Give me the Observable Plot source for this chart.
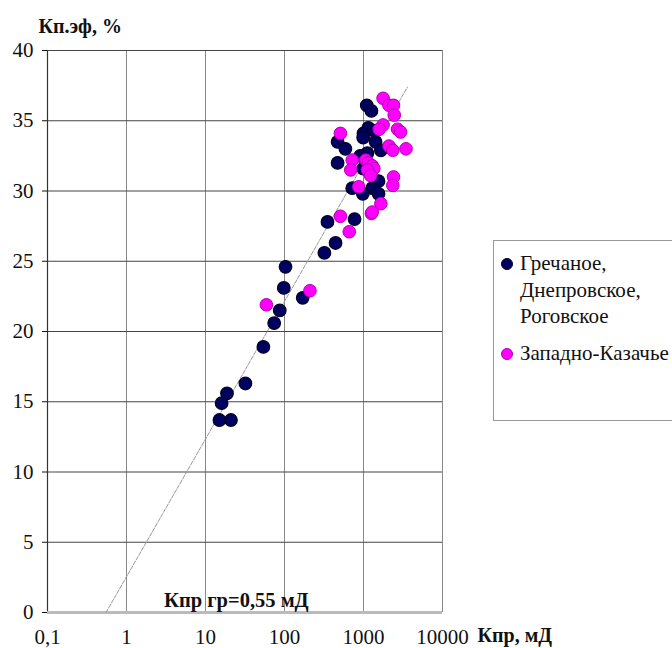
<!DOCTYPE html>
<html><head><meta charset="utf-8">
<script src="https://cdn.jsdelivr.net/npm/d3@7"></script>
<script src="https://cdn.jsdelivr.net/npm/@observablehq/plot@0.6"></script>
<style>
body{margin:0;background:#fff;}
#wrap{position:relative;width:672px;height:648px;font-family:"Liberation Serif","Times New Roman",serif;overflow:hidden;}
#legend{position:absolute;left:493px;top:240px;width:200px;height:181px;border:1.5px solid #999;box-sizing:border-box;background:#fff;font-size:21px;color:#111;}
.li{position:absolute;left:26px;line-height:26.5px;}
.mk{position:absolute;width:10px;height:10px;border-radius:50%;left:7px;}
</style></head>
<body><div id="wrap"><div id="legend"></div></div>
<script>
// Гречаное, Днепровское, Роговское
const navyK = [350,770,443,320,103,98,170,87,74,54,32,18.7,16,15,21,
  1100,1260,1150,1000,1350,1420,990,470,590,1120,910,470,1660,990,1550,1290,720,980,1550];
const navyP = [27.8,28.0,26.3,25.6,24.6,23.1,22.4,21.5,20.6,18.9,16.3,15.6,14.9,13.7,13.7,
  36.1,35.7,34.5,34.1,34.3,33.5,33.8,33.5,33.0,32.7,32.5,32.0,32.9,31.6,30.7,30.2,30.2,29.8,29.8];
// Западно-Казачье
const magK = [510,660,1260,210,59,
  1770,2100,2400,2450,1770,1580,2700,2950,510,2100,2350,3450,720,1070,1150,1290,1350,1120,690,1230,2400,2350,870,1660,1290];
const magP = [28.2,27.1,28.4,22.9,21.9,
  36.6,36.1,36.1,35.4,34.7,34.4,34.4,34.2,34.1,33.2,32.9,33.0,32.2,32.2,32.0,31.8,31.6,31.5,31.5,31.1,31.0,30.4,30.3,29.1,28.5];
const xTicks = [0.1,1,10,100,1000,10000];
const xTickLabels = ["0,1","1","10","100","1000","10000"];
const yTicks = [0,5,10,15,20,25,30,35,40];
const trendK = [0.55,3600];
const trendP = [0,37.4];
const seriesNames = ["Гречаное,\nДнепровское,\nРоговское","Западно-Казачье"];

const navy = navyK.map((k,i)=>({k,p:navyP[i]}));
const mag = magK.map((k,i)=>({k,p:magP[i]}));
const trend = trendK.map((k,i)=>({k,p:trendP[i]}));
const F = "Liberation Serif, Times New Roman, serif";

const chart = Plot.plot({
  width:672, height:648,
  marginLeft:47, marginRight:230, marginTop:50, marginBottom:36,
  style:{fontFamily:F, fontSize:"21px", color:"#111", background:"transparent", overflow:"visible"},
  x:{type:"log", domain:[0.1,10000], ticks:xTicks, tickFormat:(d)=>xTickLabels[xTicks.indexOf(d)], tickSize:0, tickPadding:17, label:null},
  y:{domain:[0,40], ticks:yTicks, tickSize:5, tickPadding:9, label:null},
  marks:[
    Plot.ruleX(xTicks.slice(1), {stroke:"#888", strokeWidth:1}),
    Plot.ruleY(yTicks.slice(1), {stroke:"#444", strokeWidth:1.2}),
    Plot.ruleX([0.1], {stroke:"#333", strokeWidth:1.2}),
    Plot.ruleY([0], {stroke:"#bbb", strokeWidth:3}),
    Plot.line(trend, {x:"k", y:"p", stroke:"#999", strokeWidth:1, strokeDasharray:"4,1.5"}),
    Plot.dot(navy, {x:"k", y:"p", r:6.3, fill:"#000060", stroke:"#000020", strokeWidth:1.2}),
    Plot.dot(mag, {x:"k", y:"p", r:6.3, fill:"#ff00ff", stroke:"#b000b0", strokeWidth:1}),
    Plot.text(["Кпр гр=0,55 мД"], {x:[24.6], y:[0], dy:-12, text:d=>d, fontWeight:"bold", fontSize:20.5, fill:"#111"}),
    Plot.text(["Кп.эф, %"], {x:[0.1], y:[40], dx:-9, dy:-24, textAnchor:"start", text:d=>d, fontWeight:"bold", fontSize:20, fill:"#111"}),
    Plot.text(["Кпр, мД"], {x:[10000], y:[0], dx:35, dy:23, textAnchor:"start", text:d=>d, fontWeight:"bold", fontSize:20, fill:"#111"})
  ]
});
document.getElementById("wrap").prepend(chart);
chart.style.position="absolute"; chart.style.left="0"; chart.style.top="0";

const lg = document.getElementById("legend");
const cols = [["#000060","#000020"],["#ff00ff","#b000b0"]];
const tops = [9, 99];
seriesNames.forEach((n,i)=>{
  const m = document.createElement("div"); m.className="mk";
  m.style.background=cols[i][0]; m.style.border="1px solid "+cols[i][1];
  m.style.top=(tops[i]+8)+"px"; lg.appendChild(m);
  const t = document.createElement("div"); t.className="li"; t.style.top=tops[i]+"px";
  t.style.whiteSpace="pre"; t.textContent=n; lg.appendChild(t);
});
</script></body></html>
